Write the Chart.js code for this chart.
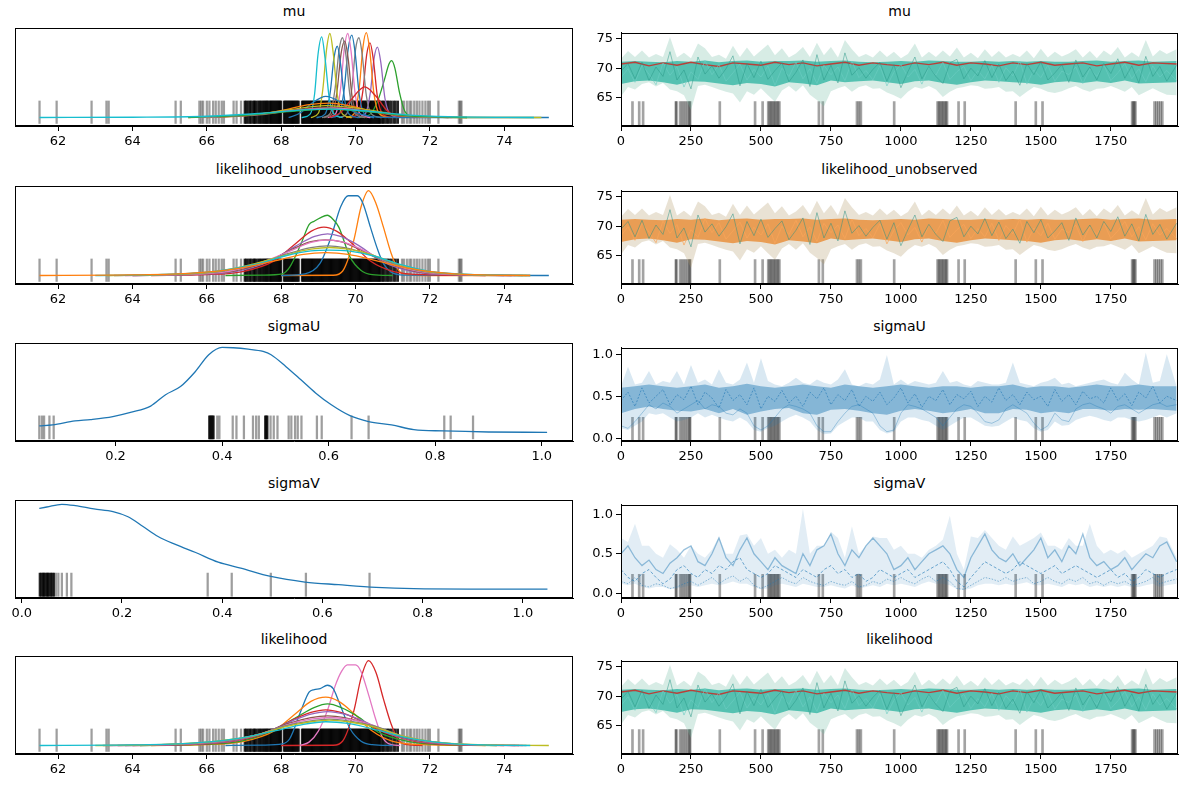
<!DOCTYPE html>
<html>
<head>
<meta charset="utf-8">
<script src="https://cdn.jsdelivr.net/npm/chart.js@4.4.1/dist/chart.umd.min.js"></script>
<style>
  html, body { margin: 0; padding: 0; background: #fff; }
  #fig { position: relative; width: 1188px; height: 789px; overflow: hidden; font-family: "DejaVu Sans", sans-serif; }
  .ttl { position: absolute; font-size: 14px; line-height: 17px; color: #000; transform: translateX(-50%); white-space: nowrap; }
  canvas { position: absolute; }
</style>
</head>
<body>
<div id="fig"></div>
<script>
// ---- tick labels ----
var thetaTicks = [62, 64, 66, 68, 70, 72, 74];
var sigmaUTicks = [0.2, 0.4, 0.6, 0.8, 1.0];
var sigmaVTicks = [0.0, 0.2, 0.4, 0.6, 0.8, 1.0];
var drawTicks = [0, 250, 500, 750, 1000, 1250, 1500, 1750];
var thetaTraceTicks = [65, 70, 75];
var sigmaTraceTicks = [0.0, 0.5, 1.0];

// ---- draw positions the trace values were read at ----
var iters25 = [0, 25, 50, 75, 100, 125, 150, 175, 200, 225,
  250, 275, 300, 325, 350, 375, 400, 425, 450, 475,
  500, 525, 550, 575, 600, 625, 650, 675, 700, 725,
  750, 775, 800, 825, 850, 875, 900, 925, 950, 975,
  1000, 1025, 1050, 1075, 1100, 1125, 1150, 1175, 1200, 1225,
  1250, 1275, 1300, 1325, 1350, 1375, 1400, 1425, 1450, 1475,
  1500, 1525, 1550, 1575, 1600, 1625, 1650, 1675, 1700, 1725,
  1750, 1775, 1800, 1825, 1850, 1875, 1900, 1925, 1950, 1985];
var iters50 = [0, 50, 100, 150, 200, 250, 300, 350, 400, 450,
  500, 550, 600, 650, 700, 750, 800, 850, 900, 950,
  1000, 1050, 1100, 1150, 1200, 1250, 1300, 1350, 1400, 1450,
  1500, 1550, 1600, 1650, 1700, 1750, 1800, 1850, 1900, 1985];

// ---- divergent draws (iteration) ----
var divergentDraws = [41, 65, 79, 196, 198, 211, 218, 225, 232, 239, 245, 247, 353, 479, 506,
  526, 531, 536, 541, 546, 551, 556, 561, 566, 707, 721,
  843, 850, 857, 976, 1131, 1136, 1141, 1146, 1151, 1156, 1161, 1165,
  1206, 1228, 1410, 1482, 1506, 1826, 1830, 1834, 1838, 1906, 1913, 1920, 1927, 1934];

// ---- divergent values (rug on the density panels) ----
var thetaRugSparse = [61.5, 61.96, 62.9, 63.3, 63.36, 65.16, 65.3, 65.8, 65.85, 65.9, 66.0, 66.07, 66.17,
  66.24, 66.32, 66.4, 66.46, 66.72, 66.8, 66.92, 71.25, 71.3, 71.38, 71.45, 71.5, 71.58, 71.65, 71.72,
  71.8, 71.88, 71.95, 72.0, 72.23, 72.78, 72.82, 72.85];
var thetaRugDense = [67.02, 67.06, 67.1, 67.15, 67.18, 67.23, 67.27, 67.3, 67.34, 67.39, 67.42, 67.46,
  67.5, 67.53, 67.57, 67.6, 67.63, 67.66, 67.7, 67.73, 67.76, 67.79, 67.82, 67.85, 67.88, 67.91, 67.94,
  67.97, 68.0, 68.08, 68.11, 68.14, 68.17, 68.2, 68.23, 68.26, 68.29, 68.32, 68.35, 68.38, 68.41, 68.44,
  68.47, 68.56, 68.59, 68.62, 68.65, 68.68, 68.71, 68.74, 68.77, 68.8, 68.83, 68.86, 68.89, 68.92, 68.95,
  68.98, 69.01, 69.04, 69.07, 69.1, 69.13, 69.16, 69.19, 69.22, 69.25, 69.28, 69.31, 69.34, 69.37, 69.4,
  69.43, 69.46, 69.49, 69.52, 69.55, 69.58, 69.61, 69.64, 69.67, 69.7, 69.73, 69.76, 69.79, 69.82, 69.85,
  69.88, 69.91, 69.94, 69.97, 70.0, 70.03, 70.06, 70.09, 70.12, 70.15, 70.18, 70.21, 70.24, 70.27, 70.3,
  70.33, 70.36, 70.39, 70.42, 70.45, 70.48, 70.51, 70.54, 70.57, 70.6, 70.63, 70.66, 70.7, 70.74, 70.78,
  70.83, 70.87, 70.92, 70.97, 71.03, 71.08, 71.14];
var sigmaURugSparse = [0.057, 0.062, 0.066, 0.076, 0.084, 0.391, 0.395, 0.42, 0.427, 0.441, 0.458, 0.464,
  0.469, 0.491, 0.497, 0.504, 0.525, 0.53, 0.537, 0.542, 0.549, 0.578, 0.587, 0.643, 0.675, 0.817, 0.829, 0.871];
var sigmaURugDense = [0.376, 0.378, 0.38, 0.382, 0.384, 0.481, 0.483, 0.485];
var sigmaVRugSparse = [0.068, 0.073, 0.08, 0.09, 0.099, 0.371, 0.419, 0.497, 0.567, 0.694];
var sigmaVRugDense = [0.036, 0.039, 0.042, 0.044, 0.047, 0.05, 0.052, 0.055, 0.058, 0.061, 0.064];

// ---- mu: per-chain densities [value, density] ----
var muKdeCyanWide = [[61.5, 0], [64.0, 0.003], [66.0, 0.015], [67.5, 0.05], [68.6, 0.09], [69.3, 0.1], [70.2, 0.08], [71.3, 0.035], [72.5, 0.01], [74.8, 0]];
var muKdeGreenWide = [[65.5, 0], [67.0, 0.025], [68.2, 0.07], [69.3, 0.1], [70.5, 0.06], [71.6, 0.015], [73.0, 0]];
var muKdePinkWide = [[65.8, 0], [67.2, 0.03], [68.3, 0.08], [69.4, 0.11], [70.4, 0.07], [71.4, 0.02], [72.6, 0]];
var muKdeBrownWide = [[66.0, 0], [67.4, 0.03], [68.4, 0.09], [69.3, 0.12], [70.3, 0.08], [71.3, 0.02], [72.5, 0]];
var muKdeOliveWide = [[66.0, 0], [67.2, 0.03], [68.2, 0.09], [69.2, 0.14], [70.2, 0.1], [71.2, 0.03], [72.5, 0], [75.0, 0]];
var muKdeOrangeWide = [[65.5, 0], [67.0, 0.02], [68.0, 0.08], [68.7, 0.15], [69.3, 0.17], [69.9, 0.13], [70.6, 0.06], [71.5, 0.01], [73.0, 0]];
var muKdeBlueWide = [[68.2, 0], [68.5, 0.05], [68.8, 0.16], [69.2, 0.25], [69.6, 0.18], [69.9, 0.08], [70.2, 0.03], [70.6, 0.005], [71.5, 0], [75.2, 0]];
var muKdeRedWide = [[69.3, 0], [69.6, 0.06], [69.9, 0.22], [70.25, 0.36], [70.55, 0.25], [70.85, 0.08], [71.2, 0.01], [71.6, 0]];
var muKdeCyan = [[68.55, 0], [68.78, 0.04], [68.9, 0.28], [68.99, 0.74], [69.09, 0.95], [69.18, 0.7], [69.29, 0.24], [69.42, 0.04], [69.65, 0]];
var muKdeOlive = [[68.8, 0], [69.0, 0.05], [69.12, 0.33], [69.22, 0.8], [69.31, 0.99], [69.4, 0.76], [69.51, 0.27], [69.65, 0.04], [69.9, 0]];
var muKdeBlue = [[68.95, 0], [69.18, 0.04], [69.32, 0.3], [69.42, 0.7], [69.51, 0.84], [69.6, 0.62], [69.71, 0.2], [69.85, 0.03], [70.1, 0]];
var muKdeGray = [[69.1, 0], [69.32, 0.05], [69.45, 0.34], [69.56, 0.8], [69.65, 0.94], [69.74, 0.74], [69.85, 0.26], [70.0, 0.04], [70.25, 0]];
var muKdeBrown = [[69.15, 0], [69.38, 0.05], [69.5, 0.3], [69.61, 0.75], [69.71, 0.9], [69.8, 0.7], [69.91, 0.24], [70.05, 0.04], [70.3, 0]];
var muKdePink = [[69.25, 0], [69.47, 0.05], [69.6, 0.35], [69.7, 0.82], [69.79, 0.99], [69.88, 0.78], [69.99, 0.28], [70.13, 0.04], [70.4, 0]];
var muKdeBlue2 = [[69.35, 0], [69.57, 0.05], [69.7, 0.35], [69.8, 0.8], [69.9, 0.97], [69.99, 0.76], [70.1, 0.27], [70.24, 0.04], [70.5, 0]];
var muKdeGray2 = [[69.55, 0], [69.77, 0.05], [69.9, 0.34], [70.0, 0.8], [70.09, 0.94], [70.18, 0.74], [70.29, 0.26], [70.43, 0.04], [70.7, 0]];
var muKdeOrange = [[69.75, 0], [69.97, 0.05], [70.1, 0.35], [70.2, 0.83], [70.29, 1.0], [70.38, 0.8], [70.49, 0.3], [70.63, 0.05], [70.9, 0]];
var muKdeRed = [[69.85, 0], [70.07, 0.05], [70.2, 0.32], [70.3, 0.74], [70.39, 0.88], [70.48, 0.68], [70.59, 0.24], [70.73, 0.04], [71.0, 0]];
var muKdePurple = [[70.05, 0], [70.27, 0.05], [70.4, 0.3], [70.5, 0.7], [70.59, 0.83], [70.68, 0.65], [70.79, 0.23], [70.93, 0.04], [71.2, 0]];
var muKdeGreen = [[70.1, 0], [70.4, 0.04], [70.6, 0.2], [70.78, 0.45], [70.9, 0.63], [70.97, 0.67], [71.06, 0.58], [71.18, 0.3], [71.33, 0.07], [71.55, 0]];

// ---- likelihood_unobserved densities ----
var luKdeOrangeWide = [[61.5, 0], [63.5, 0.005], [65.5, 0.025], [66.8, 0.08], [67.8, 0.17], [68.6, 0.25], [69.2, 0.27], [69.8, 0.25], [70.6, 0.17], [71.5, 0.08], [72.5, 0.025], [73.6, 0.005], [74.7, 0]];
var luKdeCyan = [[63.0, 0], [64.6, 0.01], [66.2, 0.05], [67.3, 0.13], [68.1, 0.23], [68.8, 0.29], [69.3, 0.3], [69.8, 0.29], [70.5, 0.23], [71.2, 0.13], [72.0, 0.05], [73.2, 0.01], [74.7, 0]];
var luKdeOlive = [[63.3, 0], [64.8, 0.01], [66.3, 0.05], [67.3, 0.14], [68.2, 0.25], [68.8, 0.31], [69.3, 0.33], [69.8, 0.31], [70.4, 0.25], [71.1, 0.14], [71.9, 0.05], [73.1, 0.01], [74.6, 0]];
var luKdeGray = [[63.5, 0], [65.0, 0.01], [66.4, 0.05], [67.4, 0.14], [68.2, 0.26], [68.8, 0.33], [69.25, 0.35], [69.7, 0.33], [70.3, 0.26], [71.0, 0.14], [71.8, 0.05], [73.0, 0.01], [74.5, 0]];
var luKdePink = [[63.8, 0], [65.3, 0.01], [66.6, 0.05], [67.5, 0.16], [68.3, 0.3], [68.8, 0.39], [69.25, 0.42], [69.7, 0.39], [70.2, 0.3], [70.9, 0.15], [71.7, 0.05], [72.8, 0.01], [74.3, 0]];
var luKdeBrown = [[64.0, 0], [65.5, 0.01], [66.7, 0.05], [67.6, 0.16], [68.3, 0.31], [68.8, 0.4], [69.2, 0.42], [69.6, 0.4], [70.1, 0.31], [70.8, 0.16], [71.6, 0.05], [72.7, 0.01], [74.2, 0]];
var luKdePurple = [[64.0, 0], [65.5, 0.01], [66.8, 0.05], [67.7, 0.17], [68.4, 0.35], [68.9, 0.46], [69.25, 0.49], [69.6, 0.46], [70.1, 0.35], [70.7, 0.17], [71.5, 0.05], [72.5, 0.01], [74.0, 0]];
var luKdeRed = [[64.5, 0], [66.0, 0.01], [67.0, 0.05], [67.8, 0.17], [68.4, 0.38], [68.8, 0.52], [69.15, 0.57], [69.5, 0.52], [69.9, 0.38], [70.4, 0.17], [71.0, 0.05], [72.0, 0.008], [73.5, 0]];
var luKdeGreen = [[66.5, 0], [67.5, 0.005], [68.03, 0.02], [68.23, 0.1], [68.54, 0.38], [68.75, 0.6], [68.89, 0.64], [69.05, 0.68], [69.24, 0.71], [69.4, 0.66], [69.55, 0.57], [69.85, 0.22], [70.15, 0.06], [70.45, 0.01], [71.0, 0]];
var luKdeBlue = [[68.0, 0], [68.64, 0.02], [69.04, 0.14], [69.34, 0.45], [69.6, 0.81], [69.8, 0.94], [70.05, 0.94], [70.2, 0.85], [70.4, 0.57], [70.6, 0.3], [70.75, 0.14], [70.96, 0.04], [71.3, 0.005], [75.2, 0]];
var luKdeOrange = [[68.0, 0], [69.4, 0.003], [69.65, 0.05], [69.95, 0.41], [70.15, 0.81], [70.35, 1.0], [70.55, 0.85], [70.75, 0.57], [70.96, 0.26], [71.16, 0.06], [71.4, 0.01], [71.8, 0], [74.7, 0]];

// ---- likelihood densities ----
var lkKdeCyan = [[61.5, 0], [63.5, 0.005], [65.5, 0.025], [66.8, 0.08], [67.8, 0.17], [68.6, 0.25], [69.2, 0.28], [69.8, 0.26], [70.6, 0.18], [71.5, 0.08], [72.5, 0.025], [73.6, 0.005], [74.7, 0]];
var lkKdeOlive = [[63.0, 0], [64.6, 0.01], [66.2, 0.05], [67.3, 0.12], [68.1, 0.22], [68.8, 0.28], [69.3, 0.3], [69.8, 0.28], [70.5, 0.22], [71.2, 0.12], [72.0, 0.05], [73.3, 0.01], [75.2, 0]];
var lkKdeGray = [[63.2, 0], [64.7, 0.01], [66.3, 0.05], [67.3, 0.12], [68.1, 0.23], [68.8, 0.29], [69.3, 0.31], [69.8, 0.29], [70.5, 0.23], [71.2, 0.12], [72.0, 0.05], [73.1, 0.01], [74.6, 0]];
var lkKdePinkWide = [[63.4, 0], [64.9, 0.01], [66.4, 0.05], [67.4, 0.13], [68.2, 0.25], [68.8, 0.31], [69.3, 0.33], [69.8, 0.31], [70.4, 0.25], [71.1, 0.13], [71.9, 0.05], [73.0, 0.01], [74.5, 0]];
var lkKdeBrown = [[63.6, 0], [65.1, 0.01], [66.5, 0.05], [67.4, 0.13], [68.2, 0.26], [68.8, 0.33], [69.25, 0.35], [69.7, 0.33], [70.3, 0.26], [71.0, 0.13], [71.8, 0.05], [72.9, 0.01], [74.4, 0]];
var lkKdePurple = [[63.8, 0], [65.3, 0.01], [66.6, 0.05], [67.5, 0.14], [68.3, 0.29], [68.8, 0.37], [69.25, 0.4], [69.7, 0.37], [70.2, 0.29], [70.9, 0.14], [71.7, 0.05], [72.8, 0.01], [74.3, 0]];
var lkKdeRedWide = [[64.0, 0], [65.5, 0.01], [66.7, 0.05], [67.6, 0.15], [68.3, 0.3], [68.8, 0.39], [69.2, 0.42], [69.6, 0.39], [70.1, 0.3], [70.8, 0.15], [71.6, 0.05], [72.6, 0.01], [74.0, 0]];
var lkKdeGreen = [[64.2, 0], [65.7, 0.01], [66.9, 0.05], [67.7, 0.16], [68.4, 0.33], [68.9, 0.45], [69.25, 0.49], [69.6, 0.45], [70.1, 0.33], [70.6, 0.16], [71.4, 0.05], [72.4, 0.01], [73.8, 0]];
var lkKdeOrange = [[64.5, 0], [66.0, 0.01], [67.0, 0.05], [67.8, 0.17], [68.4, 0.38], [68.8, 0.52], [69.2, 0.57], [69.55, 0.52], [69.95, 0.38], [70.45, 0.17], [71.0, 0.05], [72.0, 0.008], [73.5, 0]];
var lkKdeBlue = [[66.5, 0], [67.5, 0.005], [68.03, 0.02], [68.23, 0.08], [68.54, 0.42], [68.75, 0.63], [68.89, 0.66], [69.05, 0.67], [69.24, 0.71], [69.4, 0.67], [69.55, 0.52], [69.85, 0.2], [70.15, 0.05], [70.45, 0.01], [71.0, 0]];
var lkKdePink = [[68.5, 0], [68.75, 0.04], [69.0, 0.17], [69.25, 0.42], [69.45, 0.7], [69.62, 0.87], [69.78, 0.95], [70.0, 0.95], [70.15, 0.87], [70.35, 0.6], [70.55, 0.3], [70.72, 0.1], [70.9, 0.02], [71.2, 0]];
var lkKdeRed = [[68.0, 0], [69.4, 0.003], [69.65, 0.05], [69.95, 0.4], [70.15, 0.8], [70.35, 1.0], [70.55, 0.86], [70.75, 0.55], [70.96, 0.25], [71.16, 0.06], [71.4, 0.01], [71.8, 0]];

// ---- sigma densities ----
var sigmaUKde = [[0.057, 0.103], [0.082, 0.115], [0.124, 0.16], [0.153, 0.176], [0.195, 0.21], [0.23, 0.26],
  [0.266, 0.33], [0.294, 0.46], [0.322, 0.553], [0.35, 0.725], [0.375, 0.916], [0.4, 1.0], [0.421, 0.996],
  [0.449, 0.98], [0.477, 0.954], [0.492, 0.916], [0.52, 0.78], [0.548, 0.63], [0.576, 0.477], [0.605, 0.344],
  [0.64, 0.22], [0.675, 0.153], [0.718, 0.115], [0.76, 0.061], [0.816, 0.046], [0.9, 0.034], [1.01, 0.03]];
var sigmaVKde = [[0.035, 0.955], [0.05, 0.97], [0.08, 1.0], [0.107, 0.985], [0.144, 0.948], [0.182, 0.918],
  [0.212, 0.86], [0.242, 0.75], [0.272, 0.637], [0.309, 0.543], [0.347, 0.457], [0.392, 0.348], [0.437, 0.281],
  [0.497, 0.187], [0.565, 0.124], [0.632, 0.094], [0.707, 0.064], [0.782, 0.049], [0.895, 0.045], [1.049, 0.045]];

// ---- theta traces (mu, likelihood_unobserved, likelihood) ----
var thetaUpper = [71.6, 72.9, 71.9, 73.0, 71.8, 72.4, 71.9, 75.3, 71.8, 72.6,
  71.7, 74.2, 73.4, 71.9, 72.3, 71.6, 73.8, 71.9, 73.5, 72.0,
  73.0, 74.0, 72.2, 73.4, 71.8, 72.5, 73.6, 71.9, 74.3, 72.2,
  73.6, 71.8, 74.8, 73.2, 71.9, 72.4, 71.8, 73.0, 71.9, 72.8,
  71.7, 72.4, 74.2, 71.8, 72.8, 71.9, 73.0, 72.0, 73.5, 71.8,
  72.6, 71.7, 73.2, 71.9, 72.9, 71.8, 72.4, 71.9, 73.0, 71.7,
  73.3, 71.8, 72.8, 72.0, 72.5, 73.2, 71.8, 72.9, 71.7, 73.0,
  72.2, 73.6, 71.8, 72.7, 71.9, 74.8, 72.0, 73.1, 72.4, 73.2];
var thetaLower = [65.2, 66.8, 66.4, 67.3, 67.6, 66.9, 67.5, 66.4, 66.1, 65.4,
  62.9, 67.0, 67.2, 66.8, 66.4, 66.0, 65.7, 64.2, 66.1, 65.5,
  66.6, 65.4, 64.3, 66.2, 67.0, 66.0, 67.1, 65.5, 64.6, 63.5,
  66.1, 66.6, 67.0, 66.0, 66.8, 67.1, 66.5, 66.6, 65.9, 65.4,
  64.8, 66.0, 66.8, 66.5, 67.0, 66.4, 65.1, 66.0, 66.6, 66.8,
  67.1, 67.0, 66.5, 66.6, 66.8, 66.0, 66.1, 65.1, 66.0, 66.8,
  66.5, 66.0, 65.8, 66.1, 66.6, 67.0, 66.4, 66.0, 66.5, 66.6,
  67.0, 66.5, 66.0, 66.8, 65.4, 66.0, 66.6, 66.0, 65.5, 65.4];
var thetaCoreUpper = [71.1, 71.2, 71.1, 71.0, 71.2, 71.1, 71.3, 71.0, 71.2, 71.3,
  71.1, 71.2, 71.2, 71.3, 71.1, 71.2, 71.3, 71.1, 71.0, 71.1,
  71.2, 71.1, 71.3, 71.2, 71.1, 71.1, 71.2, 71.1, 71.2, 71.1,
  71.2, 71.1, 71.1, 71.2, 71.3, 71.1, 71.2, 71.3, 71.1, 71.2];
var thetaCoreLower = [67.3, 67.8, 67.9, 67.6, 67.2, 67.8, 67.7, 67.4, 67.1, 67.5,
  67.3, 66.9, 67.6, 67.4, 67.1, 67.9, 67.6, 67.8, 67.9, 67.6,
  67.3, 67.8, 67.9, 67.5, 67.2, 67.6, 67.9, 67.8, 67.6, 67.5,
  67.2, 67.6, 67.8, 67.5, 67.8, 67.5, 67.9, 67.4, 67.5, 67.6];
var thetaChainA = [69.5, 70.8, 68.2, 71.0, 67.9, 70.2, 68.6, 72.8, 68.0, 69.7,
  66.5, 71.9, 69.0, 70.4, 68.3, 69.9, 72.1, 67.0, 70.8, 68.4,
  71.2, 68.1, 69.6, 70.9, 67.7, 69.3, 71.4, 66.9, 72.3, 68.0,
  70.5, 67.5, 72.6, 68.8, 70.1, 68.3, 69.8, 71.0, 67.8, 70.6,
  66.7, 69.4, 71.9, 68.2, 70.3, 68.6, 67.4, 70.9, 71.5, 68.2,
  70.0, 68.7, 71.3, 68.4, 70.7, 67.9, 69.5, 67.1, 70.8, 68.9,
  71.1, 68.0, 69.2, 70.6, 67.6, 71.4, 68.5, 70.2, 68.0, 70.8,
  69.1, 71.6, 68.3, 70.4, 67.5, 72.0, 68.6, 70.3, 67.8, 70.5];
var thetaChainB = [68.4, 69.9, 67.6, 70.5, 69.0, 67.2, 70.9, 68.8, 70.3, 66.8,
  69.4, 68.1, 71.3, 68.9, 70.6, 67.8, 69.2, 70.7, 68.0, 69.8,
  68.5, 70.4, 67.1, 70.0, 68.6, 71.0, 68.2, 69.9, 67.4, 70.5,
  68.9, 70.2, 67.9, 71.2, 68.4, 69.6, 68.0, 70.4, 67.0, 69.3,
  70.6, 68.5, 69.8, 67.3, 70.2, 68.8, 71.0, 68.1, 69.4, 70.3,
  67.9, 69.6, 68.2, 70.5, 67.6, 70.1, 68.7, 71.2, 67.3, 69.7,
  68.4, 70.5, 67.8, 69.5, 68.9, 70.2, 67.4, 69.9, 68.6, 70.6,
  67.9, 69.2, 70.8, 68.2, 69.9, 67.7, 70.4, 68.5, 69.6, 67.9];
var thetaStuck = [70.7, 71.0, 70.4, 70.9, 70.5, 71.0, 70.6, 70.3, 70.9, 70.7,
  70.5, 71.0, 70.6, 70.9, 70.4, 70.7, 71.0, 70.5, 70.9, 70.6,
  70.4, 70.9, 70.6, 71.0, 70.5, 70.9, 70.7, 70.4, 70.9, 70.6,
  71.0, 70.5, 70.7, 70.9, 70.4, 70.7, 71.0, 70.5, 70.9, 70.7];

// ---- sigmaU trace ----
var sigmaUUpper = [0.62, 0.85, 0.64, 0.66, 0.8, 0.64, 0.68, 0.66, 0.8, 0.64,
  0.87, 0.66, 0.7, 0.64, 0.82, 0.66, 0.64, 0.7, 0.9, 0.66,
  0.95, 0.68, 0.64, 0.62, 0.66, 0.72, 0.66, 0.64, 0.7, 0.66,
  0.64, 0.7, 0.82, 0.64, 0.62, 0.66, 0.64, 0.7, 0.99, 0.64,
  0.7, 0.64, 0.68, 0.66, 0.64, 0.66, 0.8, 0.66, 0.68, 0.64,
  0.62, 0.68, 0.66, 0.64, 0.64, 0.66, 0.9, 0.66, 0.64, 0.62,
  0.66, 0.68, 0.72, 0.64, 0.66, 0.62, 0.64, 0.66, 0.68, 0.7,
  0.66, 0.64, 0.78, 0.7, 0.64, 1.02, 0.66, 0.68, 1.0, 0.62];
var sigmaULower = [0.12, 0.1, 0.15, 0.2, 0.3, 0.28, 0.3, 0.25, 0.2, 0.22,
  0.25, 0.3, 0.25, 0.28, 0.25, 0.22, 0.2, 0.25, 0.2, 0.1,
  0.08, 0.12, 0.15, 0.2, 0.25, 0.28, 0.25, 0.2, 0.1, 0.05,
  0.06, 0.15, 0.2, 0.25, 0.25, 0.2, 0.2, 0.1, 0.06, 0.08,
  0.2, 0.25, 0.25, 0.22, 0.2, 0.15, 0.1, 0.15, 0.2, 0.25,
  0.25, 0.2, 0.15, 0.14, 0.15, 0.2, 0.25, 0.22, 0.2, 0.12,
  0.08, 0.1, 0.2, 0.15, 0.16, 0.22, 0.25, 0.27, 0.25, 0.22,
  0.2, 0.25, 0.25, 0.22, 0.2, 0.22, 0.25, 0.28, 0.25, 0.3];
var sigmaUCoreUpper = [0.6, 0.62, 0.64, 0.62, 0.6, 0.62, 0.64, 0.6, 0.62, 0.65,
  0.62, 0.6, 0.62, 0.64, 0.62, 0.6, 0.64, 0.62, 0.6, 0.62,
  0.64, 0.62, 0.6, 0.62, 0.62, 0.6, 0.62, 0.62, 0.64, 0.6,
  0.62, 0.62, 0.6, 0.62, 0.64, 0.62, 0.62, 0.64, 0.62, 0.62];
var sigmaUCoreLower = [0.3, 0.35, 0.38, 0.35, 0.33, 0.32, 0.35, 0.3, 0.35, 0.28,
  0.32, 0.35, 0.36, 0.3, 0.28, 0.34, 0.35, 0.33, 0.3, 0.28,
  0.33, 0.35, 0.33, 0.3, 0.32, 0.35, 0.3, 0.3, 0.35, 0.34,
  0.3, 0.32, 0.3, 0.35, 0.35, 0.33, 0.35, 0.34, 0.35, 0.33];
var sigmaUChain = [0.45, 0.55, 0.38, 0.6, 0.42, 0.5, 0.58, 0.4, 0.52, 0.46,
  0.62, 0.4, 0.55, 0.48, 0.36, 0.58, 0.45, 0.52, 0.4, 0.6,
  0.35, 0.5, 0.44, 0.57, 0.42, 0.5, 0.38, 0.55, 0.47, 0.6,
  0.4, 0.52, 0.45, 0.58, 0.38, 0.5, 0.44, 0.55, 0.4, 0.48,
  0.6, 0.42, 0.53, 0.37, 0.5, 0.45, 0.58, 0.4, 0.52, 0.47,
  0.56, 0.38, 0.5, 0.43, 0.6, 0.45, 0.52, 0.4, 0.55, 0.46,
  0.5, 0.38, 0.58, 0.44, 0.52, 0.4, 0.56, 0.47, 0.5, 0.42,
  0.6, 0.45, 0.53, 0.39, 0.55, 0.48, 0.62, 0.42, 0.5, 0.45];
var sigmaULowChain = [0.15, 0.12, 0.2, 0.3, 0.4, 0.35, 0.42, 0.38, 0.3, 0.35,
  0.4, 0.45, 0.35, 0.4, 0.38, 0.3, 0.28, 0.35, 0.3, 0.15,
  0.1, 0.15, 0.25, 0.35, 0.4, 0.38, 0.35, 0.3, 0.15, 0.08,
  0.08, 0.2, 0.3, 0.38, 0.4, 0.35, 0.3, 0.15, 0.08, 0.1,
  0.3, 0.4, 0.38, 0.35, 0.3, 0.25, 0.15, 0.25, 0.35, 0.4,
  0.38, 0.3, 0.2, 0.18, 0.22, 0.35, 0.4, 0.35, 0.3, 0.18,
  0.1, 0.15, 0.3, 0.22, 0.2, 0.35, 0.4, 0.42, 0.38, 0.35,
  0.3, 0.38, 0.4, 0.35, 0.3, 0.35, 0.4, 0.42, 0.38, 0.4];

// ---- sigmaV trace ----
var sigmaVUpper = [0.7, 0.65, 0.88, 0.6, 0.6, 0.5, 0.45, 0.62, 0.55, 0.45,
  0.6, 0.5, 0.45, 0.55, 0.72, 0.5, 0.5, 0.73, 0.75, 0.6,
  0.7, 0.5, 0.55, 0.45, 0.55, 0.5, 1.07, 0.5, 0.6, 0.6,
  0.78, 0.7, 0.45, 0.85, 0.5, 0.6, 0.72, 0.7, 0.7, 0.55,
  0.6, 0.5, 0.5, 0.45, 0.55, 0.6, 0.68, 0.98, 0.5, 0.3,
  0.72, 0.7, 0.8, 0.7, 0.6, 0.55, 0.72, 0.6, 0.65, 0.7,
  0.77, 0.6, 0.6, 0.55, 0.7, 0.6, 0.6, 0.88, 0.6, 0.5,
  0.55, 0.5, 0.55, 0.45, 0.5, 0.55, 0.6, 0.72, 0.7, 0.45];
var sigmaVLower = [0.12, 0.1, 0.12, 0.08, 0.06, 0.08, 0.08, 0.05, 0.06, 0.08,
  0.1, 0.08, 0.1, 0.12, 0.1, 0.12, 0.15, 0.12, 0.12, 0.08,
  0.05, 0.06, 0.1, 0.12, 0.1, 0.08, 0.12, 0.1, 0.08, 0.08,
  0.1, 0.08, 0.06, 0.1, 0.06, 0.08, 0.1, 0.08, 0.12, 0.1,
  0.12, 0.1, 0.08, 0.12, 0.15, 0.12, 0.12, 0.1, 0.05, 0.04,
  0.06, 0.1, 0.12, 0.12, 0.1, 0.12, 0.1, 0.12, 0.14, 0.1,
  0.1, 0.12, 0.1, 0.08, 0.12, 0.1, 0.12, 0.08, 0.1, 0.08,
  0.1, 0.08, 0.1, 0.08, 0.08, 0.1, 0.12, 0.08, 0.1, 0.12];
var sigmaVChainA = [0.5, 0.6, 0.45, 0.35, 0.42, 0.3, 0.25, 0.38, 0.45, 0.55,
  0.6, 0.4, 0.35, 0.5, 0.7, 0.45, 0.35, 0.55, 0.7, 0.5,
  0.4, 0.3, 0.45, 0.35, 0.3, 0.25, 0.5, 0.35, 0.55, 0.6,
  0.75, 0.5, 0.35, 0.55, 0.45, 0.6, 0.7, 0.6, 0.5, 0.3,
  0.35, 0.45, 0.3, 0.4, 0.5, 0.55, 0.6, 0.5, 0.3, 0.2,
  0.45, 0.6, 0.75, 0.55, 0.45, 0.4, 0.5, 0.35, 0.45, 0.55,
  0.7, 0.45, 0.55, 0.4, 0.6, 0.5, 0.75, 0.45, 0.35, 0.4,
  0.3, 0.35, 0.45, 0.3, 0.4, 0.5, 0.45, 0.6, 0.65, 0.4];
var sigmaVChainB = [0.3, 0.2, 0.15, 0.25, 0.3, 0.2, 0.12, 0.18, 0.3, 0.35,
  0.25, 0.2, 0.3, 0.25, 0.35, 0.3, 0.4, 0.45, 0.3, 0.25,
  0.2, 0.25, 0.35, 0.3, 0.25, 0.2, 0.3, 0.25, 0.2, 0.3,
  0.35, 0.25, 0.3, 0.2, 0.25, 0.15, 0.2, 0.3, 0.25, 0.2,
  0.25, 0.3, 0.2, 0.25, 0.3, 0.35, 0.4, 0.3, 0.15, 0.08,
  0.2, 0.3, 0.4, 0.35, 0.3, 0.25, 0.3, 0.4, 0.35, 0.3,
  0.25, 0.3, 0.35, 0.25, 0.3, 0.35, 0.3, 0.25, 0.2, 0.25,
  0.3, 0.2, 0.25, 0.15, 0.2, 0.3, 0.25, 0.2, 0.25, 0.3];
var sigmaVChainC = [0.15, 0.12, 0.2, 0.1, 0.08, 0.12, 0.1, 0.06, 0.08, 0.12,
  0.15, 0.1, 0.15, 0.2, 0.12, 0.18, 0.22, 0.15, 0.2, 0.1,
  0.06, 0.1, 0.15, 0.2, 0.15, 0.12, 0.2, 0.15, 0.12, 0.1,
  0.15, 0.12, 0.1, 0.15, 0.08, 0.1, 0.15, 0.12, 0.18, 0.15,
  0.2, 0.15, 0.12, 0.18, 0.22, 0.15, 0.2, 0.15, 0.06, 0.05,
  0.1, 0.15, 0.2, 0.18, 0.15, 0.2, 0.15, 0.18, 0.2, 0.12,
  0.15, 0.2, 0.15, 0.12, 0.18, 0.15, 0.2, 0.12, 0.15, 0.1,
  0.15, 0.12, 0.15, 0.1, 0.12, 0.15, 0.2, 0.12, 0.15, 0.18];

// ---- drawing ----
var C = { blue: '#1f77b4', orange: '#ff7f0e', green: '#2ca02c', red: '#d62728', purple: '#9467bd',
  brown: '#8c564b', pink: '#e377c2', gray: '#7f7f7f', olive: '#bcbd22', cyan: '#17becf' };
var rowTops = [28, 186, 343, 500, 656];
var fig = document.getElementById('fig');

// matplotlib-style frame around the axes
var boxPlugin = {
  id: 'box',
  afterDraw: function (chart) {
    var a = chart.chartArea, g = chart.ctx;
    g.save();
    g.strokeStyle = '#000';
    g.lineWidth = 1;
    g.strokeRect(Math.round(a.left) + 0.5, Math.round(a.top) + 0.5,
      Math.round(a.right - a.left) - 1, Math.round(a.bottom - a.top) - 1);
    g.restore();
  }
};

function pts(xs, ys) { return xs.map(function (x, i) { return { x: x, y: ys[i] }; }); }
function pairs(a) { return a.map(function (p) { return { x: p[0], y: p[1] }; }); }

function kde(arr, color) {
  return { data: pairs(arr), borderColor: color, borderWidth: 1.3, pointRadius: 0,
    cubicInterpolationMode: 'monotone', fill: false, order: 10 };
}
function rug(vals, lo, hi, color, w) {
  return { type: 'bar', data: vals.map(function (v) { return { x: v, y: [lo, hi] }; }),
    backgroundColor: color, barThickness: w, grouped: false, order: 100 };
}
function band(lo, hi, xs, color, order) {
  return [
    { data: pts(xs, lo), borderWidth: 0, pointRadius: 0, fill: false, order: order + 1 },
    { data: pts(xs, hi), borderWidth: 0, pointRadius: 0, fill: '-1', backgroundColor: color, order: order }
  ];
}
function trace(xs, ys, color, w, dash, order) {
  return { data: pts(xs, ys), borderColor: color, borderWidth: w, borderDash: dash || [],
    pointRadius: 0, tension: 0, fill: false, order: order };
}

function axis(c, horizontal, shown) {
  return {
    type: 'linear', min: c.min, max: c.max, offset: false, display: shown,
    afterBuildTicks: function (s) { s.ticks = (c.ticks || []).map(function (v) { return { value: v }; }); },
    afterFit: function (s) {
      if (horizontal) s.height = 24;
      else s.width = shown ? 31 : 0;
    },
    ticks: { color: '#000', font: { family: 'DejaVu Sans', size: 13 }, padding: 3,
      maxRotation: 0, autoSkip: false, callback: function (v) { return c.fmt ? c.fmt(v) : String(v); } },
    grid: { display: true, drawOnChartArea: false, drawTicks: true, tickLength: 5,
      tickColor: '#000', tickWidth: 1, offset: false },
    border: { display: true, color: '#000', width: 1 }
  };
}

function panel(row, col, title, xc, yc, datasets) {
  var t = document.createElement('div');
  t.className = 'ttl';
  t.textContent = title;
  t.style.left = (col ? 899.5 : 294) + 'px';
  t.style.top = (rowTops[row] - 25) + 'px';
  fig.appendChild(t);

  var cv = document.createElement('canvas');
  var w = col ? 598 : 590, h = 128;
  cv.width = w; cv.height = h;
  cv.style.width = w + 'px'; cv.style.height = h + 'px';
  cv.style.left = (col ? 590 : 0) + 'px';
  cv.style.top = (rowTops[row] - 6) + 'px';
  fig.appendChild(cv);

  new Chart(cv.getContext('2d'), {
    type: 'line',
    data: { datasets: datasets },
    options: {
      responsive: false, animation: false, events: [],
      layout: { autoPadding: false, padding: { left: col ? 0 : 15, right: col ? 10 : 17, top: 6, bottom: 0 } },
      plugins: { legend: { display: false }, tooltip: { enabled: false } },
      scales: { x: axis(xc, true, true), y: axis(yc, false, !!col) }
    },
    plugins: [boxPlugin]
  });
}

var fmt1 = function (v) { return v.toFixed(1); };
var thetaX = { min: 60.84, max: 75.85, ticks: thetaTicks };
var kdeY = { min: -0.1, max: 1.055 };
var drawX = { min: 0, max: 1990, ticks: drawTicks };
var thetaY = { min: 60.2, max: 76.0, ticks: thetaTraceTicks };

function thetaRugs() {
  return [rug(thetaRugSparse, -0.07, 0.195, 'rgba(0,0,0,0.38)', 1.6),
          rug(thetaRugDense, -0.07, 0.195, 'rgba(0,0,0,0.85)', 1.6)];
}
function thetaTrace(env, core, chainA, chainB, stuck) {
  var ds = [rug(divergentDraws, 60.2, 64.35, 'rgba(0,0,0,0.36)', 2)];
  ds = ds.concat(band(thetaLower, thetaUpper, iters25, env, 8));
  ds = ds.concat(band(thetaCoreLower, thetaCoreUpper, iters50, core, 6));
  if (stuck) ds.push(trace(iters50, thetaStuck, stuck, 1.4, [], 5));
  ds.push(trace(iters25, thetaChainB, chainB, 1, [], 4));
  ds.push(trace(iters25, thetaChainA, chainA, 0.9, [], 3));
  return ds;
}

// row 0: mu
panel(0, 0, 'mu', thetaX, kdeY, thetaRugs().concat([
  kde(muKdeCyanWide, C.cyan), kde(muKdeGreenWide, C.green), kde(muKdePinkWide, C.pink),
  kde(muKdeBrownWide, C.brown), kde(muKdeOliveWide, C.olive), kde(muKdeOrangeWide, C.orange),
  kde(muKdeBlueWide, C.blue), kde(muKdeRedWide, C.red),
  kde(muKdeCyan, C.cyan), kde(muKdeOlive, C.olive), kde(muKdeBlue, C.blue), kde(muKdeGray, C.gray),
  kde(muKdeBrown, C.brown), kde(muKdePink, C.pink), kde(muKdeBlue2, C.blue), kde(muKdeGray2, C.gray),
  kde(muKdeOrange, C.orange), kde(muKdeRed, C.red), kde(muKdePurple, C.purple), kde(muKdeGreen, C.green)
]));
panel(0, 1, 'mu', drawX, thetaY,
  thetaTrace('rgba(110,185,160,0.28)', 'rgba(62,186,168,0.85)', 'rgba(40,150,135,0.55)',
    'rgba(110,205,195,0.6)', 'rgba(205,40,35,0.85)'));

// row 1: likelihood_unobserved
panel(1, 0, 'likelihood_unobserved', thetaX, kdeY, thetaRugs().concat([
  kde(luKdeOrangeWide, C.orange), kde(luKdeCyan, C.cyan), kde(luKdeOlive, C.olive), kde(luKdeGray, C.gray),
  kde(luKdePink, C.pink), kde(luKdeBrown, C.brown), kde(luKdePurple, C.purple), kde(luKdeRed, C.red),
  kde(luKdeGreen, C.green), kde(luKdeBlue, C.blue), kde(luKdeOrange, C.orange)
]));
panel(1, 1, 'likelihood_unobserved', drawX, thetaY,
  thetaTrace('rgba(175,150,100,0.28)', 'rgba(234,140,52,0.8)', 'rgba(40,145,130,0.55)',
    'rgba(250,165,90,0.7)', null));

// row 2: sigmaU
panel(2, 0, 'sigmaU', { min: 0.0114, max: 1.0586, ticks: sigmaUTicks, fmt: fmt1 }, { min: -0.069, max: 1.05 }, [
  rug(sigmaURugSparse, -0.045, 0.218, 'rgba(0,0,0,0.38)', 1.6),
  rug(sigmaURugDense, -0.045, 0.218, 'rgba(0,0,0,0.85)', 1.6),
  kde(sigmaUKde, C.blue)
]);
panel(2, 1, 'sigmaU', drawX, { min: -0.03, max: 1.075, ticks: sigmaTraceTicks, fmt: fmt1 },
  [rug(divergentDraws, -0.03, 0.25, 'rgba(0,0,0,0.36)', 2)]
    .concat(band(sigmaULower, sigmaUUpper, iters25, 'rgba(31,119,180,0.17)', 8))
    .concat(band(sigmaUCoreLower, sigmaUCoreUpper, iters50, 'rgba(31,119,180,0.45)', 6))
    .concat([trace(iters25, sigmaULowChain, 'rgba(31,119,180,0.35)', 1, [], 4),
             trace(iters25, sigmaUChain, 'rgba(31,119,180,0.6)', 1, [2, 1.5], 3)]));

// row 3: sigmaV
panel(3, 0, 'sigmaV', { min: -0.0135, max: 1.1, ticks: sigmaVTicks, fmt: fmt1 }, { min: -0.056, max: 1.049 }, [
  rug(sigmaVRugSparse, -0.037, 0.225, 'rgba(0,0,0,0.38)', 1.6),
  rug(sigmaVRugDense, -0.037, 0.225, 'rgba(0,0,0,0.85)', 1.6),
  kde(sigmaVKde, C.blue)
]);
panel(3, 1, 'sigmaV', drawX, { min: -0.06, max: 1.12, ticks: sigmaTraceTicks, fmt: fmt1 },
  [rug(divergentDraws, -0.06, 0.24, 'rgba(0,0,0,0.36)', 2)]
    .concat(band(sigmaVLower, sigmaVUpper, iters25, 'rgba(31,119,180,0.13)', 8))
    .concat([trace(iters25, sigmaVChainC, 'rgba(31,119,180,0.5)', 1, [1.5, 1.5], 4),
             trace(iters25, sigmaVChainB, 'rgba(31,119,180,0.62)', 1, [3, 2], 3),
             trace(iters25, sigmaVChainA, 'rgba(31,119,180,0.45)', 1.3, [], 2)]));

// row 4: likelihood
panel(4, 0, 'likelihood', thetaX, kdeY, thetaRugs().concat([
  kde(lkKdeCyan, C.cyan), kde(lkKdeOlive, C.olive), kde(lkKdeGray, C.gray), kde(lkKdePinkWide, C.pink),
  kde(lkKdeBrown, C.brown), kde(lkKdePurple, C.purple), kde(lkKdeRedWide, C.red), kde(lkKdeGreen, C.green),
  kde(lkKdeOrange, C.orange), kde(lkKdeBlue, C.blue), kde(lkKdePink, C.pink), kde(lkKdeRed, C.red)
]));
panel(4, 1, 'likelihood', drawX, thetaY,
  thetaTrace('rgba(110,185,160,0.28)', 'rgba(62,186,168,0.85)', 'rgba(40,150,135,0.55)',
    'rgba(110,205,195,0.6)', 'rgba(205,40,35,0.85)'));
</script>
</body>
</html>
